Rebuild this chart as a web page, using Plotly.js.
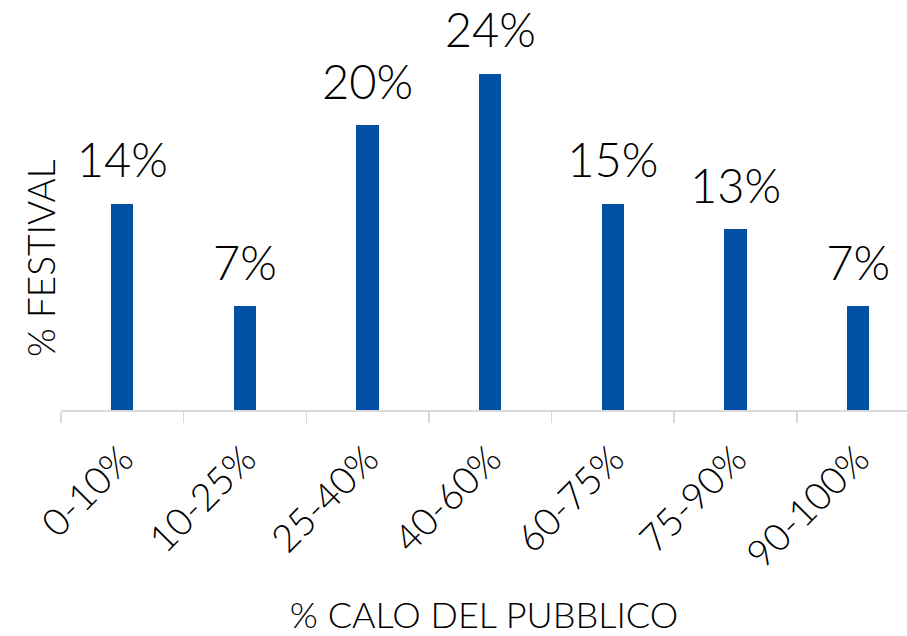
<!DOCTYPE html>
<html>
<head>
<meta charset="utf-8">
<script src="https://cdn.plot.ly/plotly-3.0.1.min.js"></script>
<style>html,body{margin:0;padding:0;background:#fff;}#chart{width:907px;height:636px;}</style>
</head>
<body>
<div id="chart"></div>
<script>
var categories = ['0-10%', '10-25%', '25-40%', '40-60%', '60-75%', '75-90%', '90-100%'];
var values = [14.5, 7.3, 20.0, 23.6, 14.5, 12.7, 7.3];
var labels = ['14%', '7%', '20%', '24%', '15%', '13%', '7%'];
var xTitle = '% CALO DEL PUBBLICO';
var yTitle = '% FESTIVAL';

var FONT = 'Lato, "Noto Sans", sans-serif';
var BAR = '#0051a3';

var traces = [
  {
    type: 'bar',
    x: categories,
    y: values,
    width: 0.182,
    marker: {color: BAR},
    hoverinfo: 'skip',
    showlegend: false
  },
  {
    type: 'scatter',
    mode: 'markers+text',
    x: categories,
    y: values,
    text: labels,
    textposition: 'top center',
    textfont: {family: FONT, size: 47, color: '#000', weight: 300},
    marker: {size: 22, color: 'rgba(0,0,0,0)'},
    cliponaxis: false,
    hoverinfo: 'skip',
    showlegend: false
  }
];

var layout = {
  width: 907,
  height: 636,
  margin: {l: 61, r: 0, t: 54, b: 226},
  paper_bgcolor: '#fff',
  plot_bgcolor: '#fff',
  font: {family: FONT, color: '#000', weight: 300},
  bargap: 0,
  xaxis: {
    type: 'category',
    range: [-0.5, 6.398],
    showline: true,
    linecolor: '#d9d9d9',
    linewidth: 1.5,
    ticks: 'outside',
    tickson: 'boundaries',
    ticklen: 11,
    tickwidth: 1.5,
    tickcolor: '#d9d9d9',
    tickangle: -45,
    ticklabelstandoff: 10,
    tickfont: {family: FONT, size: 38, color: '#000', weight: 300},
    showgrid: false,
    zeroline: false,
    title: {text: xTitle, font: {family: FONT, size: 36, color: '#000', weight: 300}, standoff: 28}
  },
  yaxis: {
    range: [0, 25],
    showline: false,
    showticklabels: false,
    ticks: '',
    showgrid: false,
    zeroline: false
  },
  annotations: [{
    text: yTitle,
    xref: 'paper', yref: 'paper',
    x: -61/846 + 40/846, y: (410 - 258) / 356,
    xanchor: 'center', yanchor: 'middle',
    textangle: -90,
    showarrow: false,
    font: {family: FONT, size: 37, color: '#000', weight: 300}
  }]
};

Plotly.newPlot('chart', traces, layout, {displayModeBar: false, staticPlot: true});
</script>
</body>
</html>
